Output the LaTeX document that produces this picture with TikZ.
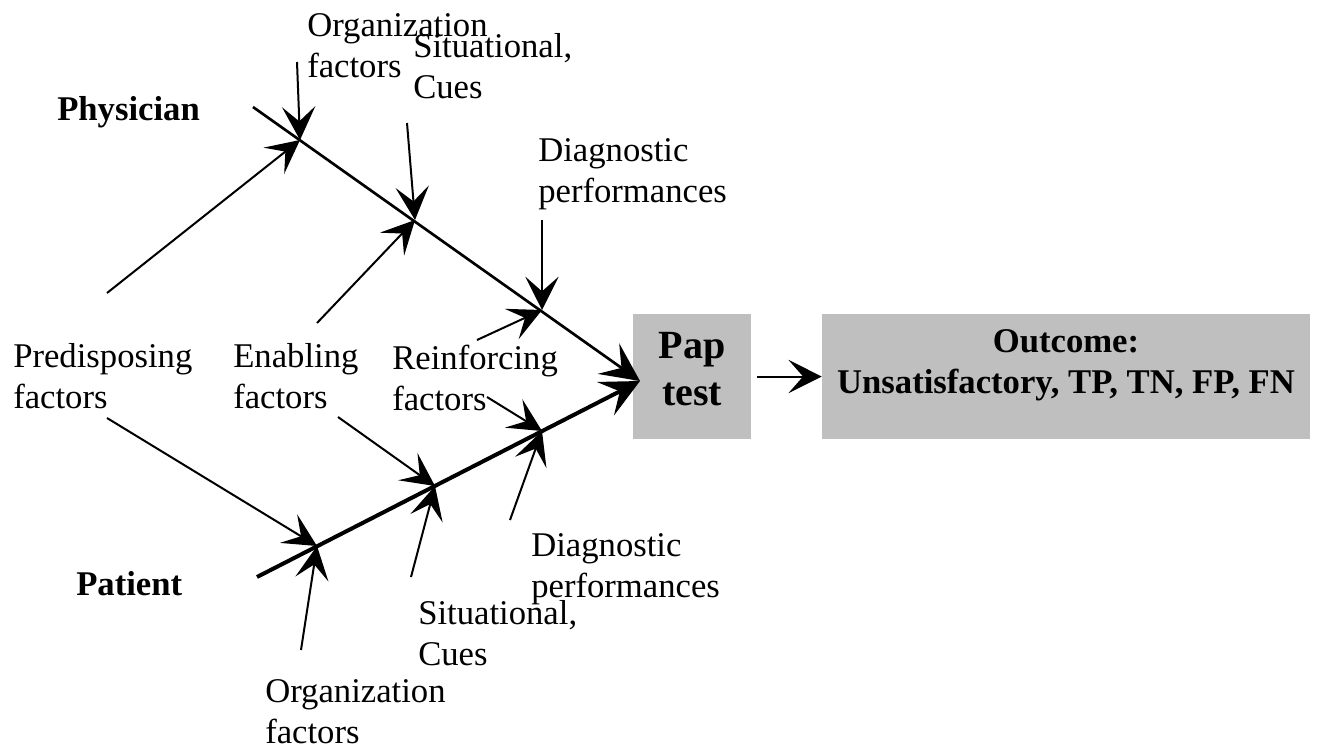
\documentclass[tikz,border=0pt]{standalone}
\usepackage{fontspec}
\setmainfont{Liberation Serif}
\usetikzlibrary{arrows.meta}
\begin{document}
\begin{tikzpicture}[x=0.75pt,y=-0.75pt,
  lbl/.style={anchor=base west,inner sep=0pt,align=left,font=\fontsize{26}{30.5}\selectfont},
  blbl/.style={lbl,font=\fontsize{26}{30.5}\selectfont\bfseries},
  head/.style={-{Stealth[length=25pt,width=25pt,inset=11pt]}},
  branch/.style={line width=1.5pt,head},
  spine/.style={-{Stealth[length=29pt,width=28pt,inset=12pt]}},
  graybox/.style={fill=black!25,draw=none,inner sep=0pt}]
\useasboundingbox (0,0) rectangle (1319,750);
% boxes
\node[graybox,minimum width=88.5pt,minimum height=93.75pt] (pap) at (692,376.5) {};
\node[inner sep=0pt,anchor=base,align=center,font=\fontsize{30}{35}\selectfont\bfseries] (paptext) at (692,405) {Pap\\test};
\node[graybox,minimum width=366pt,minimum height=93.75pt] (outbox) at (1066,376.5) {};
\node[blbl,anchor=base,align=center] (outtext) at (1066,393) {Outcome:\\Unsatisfactory, TP, TN, FP, FN};
% coordinates
\coordinate (ps) at (253,107);
\coordinate (qs) at (257,577);
\coordinate (tip) at (640,381);
\coordinate (pj1) at (300,140);
\coordinate (pj2) at (415,220);
\coordinate (pj3) at (542,310);
\coordinate (qj1) at (317,546);
\coordinate (qj2) at (435,486);
\coordinate (qj3) at (542,431);
\coordinate (orgT) at (297,62);
\coordinate (sitT) at (407,123);
\coordinate (diaT) at (542,220);
\coordinate (preU) at (107,293);
\coordinate (enaU) at (317,323);
\coordinate (reiU) at (477,340);
\coordinate (preL) at (107,418);
\coordinate (enaL) at (338,417);
\coordinate (reiL) at (487,397);
\coordinate (orgB) at (301,650);
\coordinate (sitB) at (411,577);
\coordinate (diaB) at (510,520);
\coordinate (oa) at (757,376.5);
% spines
\draw[spine,line width=2pt] (ps) -- (tip);
\draw[spine,line width=3pt] (qs) -- (tip);
% branches
\foreach \a/\b in {orgT/pj1,sitT/pj2,diaT/pj3,preU/pj1,enaU/pj2,reiU/pj3,
                   preL/qj1,enaL/qj2,reiL/qj3,orgB/qj1,sitB/qj2,diaB/qj3}
  \draw[branch] (\a) -- (\b);
\draw[branch] (oa) -- (outbox.west);
% labels
\node[blbl] (phys) at (57,120) {Physician};
\node[blbl] (pat) at (76,595) {Patient};
\node[lbl] (orgTl) at (307,77) {Organization\\factors};
\node[lbl] (sitTl) at (413,98) {Situational,\\Cues};
\node[lbl] (diaTl) at (538,202) {Diagnostic\\performances};
\node[lbl] (prel) at (13,408) {Predisposing\\factors};
\node[lbl] (enal) at (233,408) {Enabling\\factors};
\node[lbl] (reil) at (392,410) {Reinforcing\\factors};
\node[lbl] (diaBl) at (531,597) {Diagnostic\\performances};
\node[lbl] (sitBl) at (418,665) {Situational,\\Cues};
\node[lbl] (orgBl) at (265,743) {Organization\\factors};
\end{tikzpicture}
\end{document}
